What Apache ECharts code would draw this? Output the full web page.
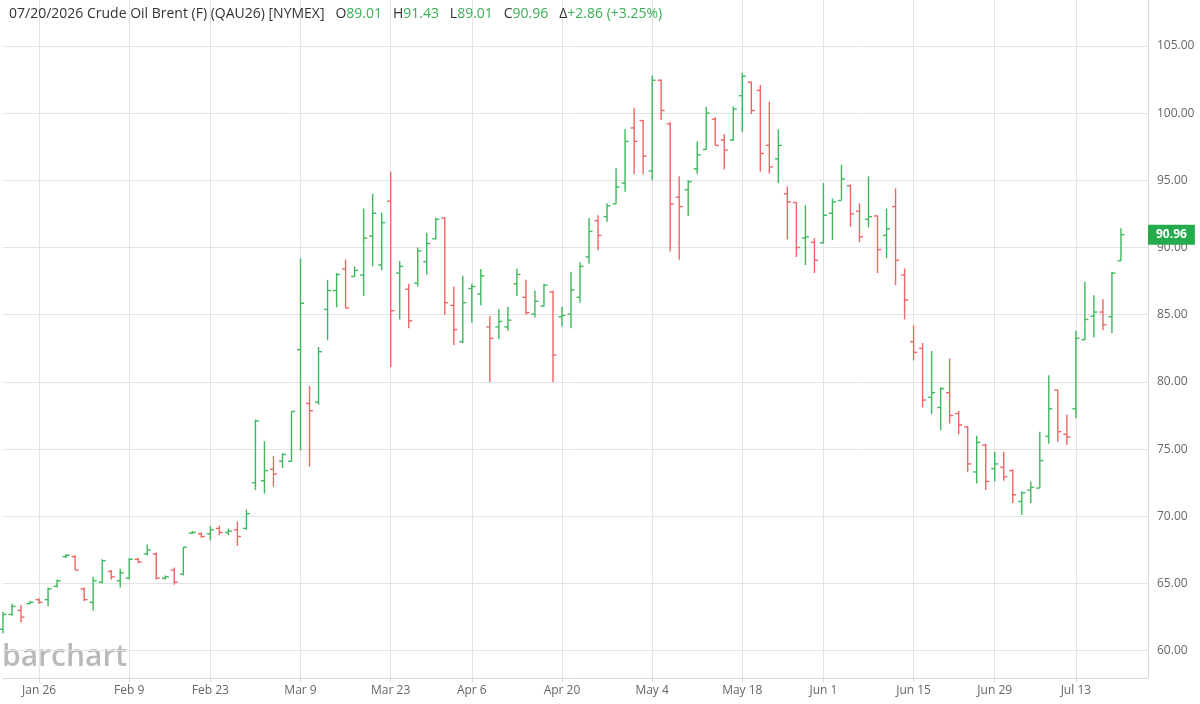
<!DOCTYPE html>
<html>
<head>
    <meta charset="UTF-8">
    <title>Crude Oil Brent (F) (QAU26)</title>
    <script src="https://cdn.jsdelivr.net/npm/echarts@6/dist/echarts.min.js"></script>
    <style>
        html, body { margin: 0; padding: 0; background: #fff; }
    </style>
</head>
<body>
<div id="chart" style="width:1200px; height:704px;"></div>
<script>
    // trading days, Jan 20 .. Jul 20 2026
    var dates = [
        'Jan 20', 'Jan 21', 'Jan 22', 'Jan 23', 'Jan 26', 'Jan 27', 'Jan 28', 'Jan 29', 'Jan 30',
        'Feb 2', 'Feb 3', 'Feb 4', 'Feb 5', 'Feb 6', 'Feb 9', 'Feb 10', 'Feb 11', 'Feb 12', 'Feb 13',
        'Feb 17', 'Feb 18', 'Feb 19', 'Feb 20', 'Feb 23', 'Feb 24', 'Feb 25', 'Feb 26', 'Feb 27',
        'Mar 2', 'Mar 3', 'Mar 4', 'Mar 5', 'Mar 6', 'Mar 9', 'Mar 10', 'Mar 11', 'Mar 12', 'Mar 13',
        'Mar 16', 'Mar 17', 'Mar 18', 'Mar 19', 'Mar 20', 'Mar 23', 'Mar 24', 'Mar 25', 'Mar 26', 'Mar 27',
        'Mar 30', 'Mar 31', 'Apr 1', 'Apr 2', 'Apr 6', 'Apr 7', 'Apr 8', 'Apr 9', 'Apr 10',
        'Apr 13', 'Apr 14', 'Apr 15', 'Apr 16', 'Apr 17', 'Apr 20', 'Apr 21', 'Apr 22', 'Apr 23', 'Apr 24',
        'Apr 27', 'Apr 28', 'Apr 29', 'Apr 30', 'May 1', 'May 4', 'May 5', 'May 6', 'May 7', 'May 8',
        'May 11', 'May 12', 'May 13', 'May 14', 'May 15', 'May 18', 'May 19', 'May 20', 'May 21', 'May 22',
        'May 26', 'May 27', 'May 28', 'May 29', 'Jun 1', 'Jun 2', 'Jun 3', 'Jun 4', 'Jun 5',
        'Jun 8', 'Jun 9', 'Jun 10', 'Jun 11', 'Jun 12', 'Jun 15', 'Jun 16', 'Jun 17', 'Jun 18',
        'Jun 22', 'Jun 23', 'Jun 24', 'Jun 25', 'Jun 26', 'Jun 29', 'Jun 30', 'Jul 1', 'Jul 2',
        'Jul 6', 'Jul 7', 'Jul 8', 'Jul 9', 'Jul 10', 'Jul 13', 'Jul 14', 'Jul 15', 'Jul 16', 'Jul 17',
        'Jul 20'
    ];
    // empty slots on the right edge
    var padSlots = ['', '', ''];

    var tickLabels = ['Jan 26', 'Feb 9', 'Feb 23', 'Mar 9', 'Mar 23', 'Apr 6', 'Apr 20',
        'May 4', 'May 18', 'Jun 1', 'Jun 15', 'Jun 29', 'Jul 13'];

    var opens = [
        61.6, 62.7, 63.0, 63.5, 63.8, 63.8, 64.8, 67.0, 67.0, 64.6,
        63.6, 65.1, 65.9, 65.2, 65.4, 66.8, 67.2, 67.2, 65.4, 66.0,
        65.7, 68.75, 68.7, 68.7, 69.1, 68.8, 69.0, 69.1, 72.5, 72.65,
        73.5, 74.1, 74.1, 82.4, 78.4, 78.5, 85.4, 86.8, 88.4, 87.85,
        87.95, 90.85, 88.7, 93.45, 88.1, 86.9, 87.35, 88.95, 90.65, 92.2,
        85.7, 83.0, 86.95, 86.55, 84.1, 84.1, 84.1, 87.3, 86.3, 85.05,
        85.65, 86.7, 84.85, 85.05, 86.3, 89.3, 92.0, 92.3, 93.25, 94.8,
        98.9, 99.45, 95.7, 102.45, 99.2, 93.75, 94.3, 95.85, 97.3, 99.55,
        98.0, 98.0, 101.3, 102.3, 101.7, 97.6, 96.6, 94.0, 93.35, 90.7,
        90.4, 90.35, 92.55, 93.5, 94.6, 92.7, 92.1, 92.35, 90.9, 93.05,
        87.95, 83.0, 82.5, 78.85, 78.1, 79.2, 77.65, 76.65, 73.3, 75.3,
        73.55, 73.65, 73.4, 71.1, 71.95, 72.1, 75.95, 79.4, 76.1, 78.0,
        83.15, 84.9, 85.2, 84.85, 89.01
    ];
    var highs = [
        62.9, 63.5, 63.4, 63.7, 63.9, 64.7, 65.3, 67.2, 67.1, 64.7,
        65.5, 66.8, 66.0, 66.1, 66.9, 66.9, 67.9, 67.3, 65.6, 66.2,
        67.7, 68.9, 68.8, 69.3, 69.3, 69.1, 69.6, 70.5, 77.2, 75.6,
        74.5, 74.7, 77.8, 89.2, 79.7, 82.6, 87.6, 88.1, 89.1, 88.6,
        92.9, 94.0, 92.6, 95.65, 89.0, 87.3, 90.0, 91.1, 92.2, 92.25,
        87.1, 87.9, 87.3, 88.4, 84.9, 85.4, 85.6, 88.45, 87.6, 86.8,
        87.3, 86.8, 85.6, 88.2, 88.9, 92.2, 92.4, 93.3, 95.9, 98.8,
        100.4, 99.5, 102.8, 102.5, 99.35, 95.3, 95.0, 97.9, 100.45, 99.7,
        98.45, 100.5, 103.0, 102.35, 102.1, 100.85, 98.8, 94.55, 93.35, 93.15,
        90.7, 94.8, 93.65, 96.15, 94.7, 93.3, 95.3, 92.4, 92.9, 94.4,
        88.45, 84.2, 82.9, 82.3, 79.6, 81.75, 77.85, 76.7, 76.0, 75.4,
        74.8, 74.8, 73.5, 71.85, 72.6, 76.3, 80.5, 79.4, 77.55, 83.8,
        87.45, 86.45, 86.15, 88.2, 91.43
    ];
    var lows = [
        61.3, 62.6, 62.1, 63.5, 63.5, 63.3, 64.7, 66.9, 66.0, 63.7,
        63.0, 65.0, 65.3, 64.7, 65.3, 66.5, 67.1, 65.3, 65.3, 64.9,
        65.6, 68.7, 68.4, 68.2, 68.6, 68.6, 67.8, 69.0, 71.95, 71.7,
        72.2, 73.6, 74.05, 74.9, 73.7, 78.3, 83.1, 85.55, 85.5, 87.8,
        86.4, 88.6, 88.3, 81.1, 84.65, 84.0, 87.1, 88.0, 90.6, 85.0,
        82.75, 82.9, 84.4, 85.7, 80.0, 83.2, 83.8, 86.4, 85.0, 84.8,
        85.6, 80.0, 84.15, 84.0, 85.9, 88.8, 89.8, 91.9, 93.25, 94.15,
        95.45, 95.45, 95.0, 99.5, 89.7, 89.1, 92.35, 95.5, 97.3, 97.6,
        95.8, 97.95, 98.6, 99.95, 95.65, 95.5, 94.8, 90.6, 89.3, 88.7,
        88.1, 90.3, 90.55, 93.5, 91.55, 90.4, 91.5, 88.1, 89.2, 87.2,
        84.65, 81.6, 78.1, 77.6, 76.4, 76.9, 76.1, 73.3, 72.45, 71.95,
        72.6, 72.65, 71.0, 70.1, 71.0, 72.1, 75.4, 75.55, 75.3, 77.3,
        83.1, 83.3, 83.85, 83.65, 89.01
    ];
    var closes = [
        62.7, 63.3, 62.5, 63.6, 63.6, 64.6, 65.2, 67.1, 66.0, 63.8,
        65.2, 66.7, 65.5, 65.8, 66.8, 66.6, 67.5, 65.4, 65.5, 65.1,
        67.7, 68.8, 68.5, 69.0, 68.8, 68.9, 68.5, 70.2, 77.1, 73.4,
        73.15, 74.6, 77.8, 85.85, 77.86, 82.25, 86.8, 88.0, 85.5, 88.3,
        90.7, 92.55, 91.85, 85.3, 88.6, 84.55, 89.75, 90.3, 92.1, 85.9,
        83.9, 85.9, 87.1, 87.9, 83.25, 84.5, 84.6, 88.0, 85.15, 86.0,
        87.2, 82.0, 84.95, 86.85, 88.6, 91.2, 90.9, 93.1, 94.5, 97.9,
        97.9, 96.8, 102.45, 100.2, 93.25, 93.05, 94.9, 96.9, 100.0, 97.6,
        97.25, 100.3, 102.75, 100.2, 97.0, 96.0, 97.6, 93.4, 90.0, 90.8,
        89.05, 92.4, 93.4, 95.1, 92.5, 90.8, 92.3, 89.85, 91.4, 89.05,
        86.1, 82.2, 78.65, 79.2, 79.5, 77.5, 76.8, 73.9, 75.5, 72.6,
        73.9, 72.95, 71.6, 71.75, 72.15, 74.15, 78.0, 76.3, 75.9, 83.25,
        84.65, 85.2, 84.25, 88.10, 90.96
    ];

    var UP = '#3cb95c';
    var DOWN = '#ef6464';
    var FONT = 'Open Sans';

    var ohlc = dates.map(function (d, i) {
        return [i, opens[i], highs[i], lows[i], closes[i]];
    });

    var last = ohlc.length - 1;
    var chg = closes[last] - closes[last - 1];
    var pct = chg / closes[last - 1] * 100;
    var sign = chg >= 0 ? '+' : '';
    var gap = '   ';
    var header = '{k|07/20/2026 Crude Oil Brent (F) (QAU26) [NYMEX]}' + gap +
        '{k|O}{g|' + opens[last].toFixed(2) + '}' + gap +
        '{k|H}{g|' + highs[last].toFixed(2) + '}' + gap +
        '{k|L}{g|' + lows[last].toFixed(2) + '}' + gap +
        '{k|C}{g|' + closes[last].toFixed(2) + '}' + gap +
        '{k|Δ}{g|' + sign + chg.toFixed(2) + ' (' + sign + pct.toFixed(2) + '%)}';

    function isTick(idx, val) {
        return tickLabels.indexOf(val) >= 0;
    }

    var chart = echarts.init(document.getElementById('chart'), null, {renderer: 'canvas'});
    var option = {
        animation: false,
        backgroundColor: '#fff',
        textStyle: {fontFamily: FONT},
        title: {
            left: 4,
            top: 2,
            text: header,
            textStyle: {
                fontSize: 14,
                fontWeight: 'normal',
                rich: {
                    k: {color: '#333', fontSize: 14, fontFamily: FONT},
                    g: {color: '#3aaf55', fontSize: 14, fontFamily: FONT}
                }
            }
        },
        graphic: [{
            type: 'text',
            left: 2,
            top: 642,
            silent: true,
            style: {
                text: 'barchart',
                fill: '#b9b9b9',
                font: '600 30px "Open Sans"'
            }
        }],
        grid: {left: 3, right: 52, top: 0, bottom: 26, containLabel: false},
        xAxis: {
            type: 'category',
            data: dates.concat(padSlots),
            boundaryGap: false,
            axisLine: {show: true, lineStyle: {color: '#d9d9d9', width: 1}},
            axisTick: {show: true, interval: isTick, length: 4, lineStyle: {color: '#d9d9d9'}},
            axisLabel: {
                interval: isTick,
                color: '#666',
                fontSize: 12,
                fontFamily: FONT,
                margin: 7
            },
            splitLine: {show: true, interval: isTick, lineStyle: {color: '#e3e3e3', width: 1}}
        },
        yAxis: {
            type: 'value',
            position: 'right',
            min: 57.97,
            max: 108.42,
            splitNumber: 10,
            axisLine: {show: true, lineStyle: {color: '#d9d9d9', width: 1}},
            axisTick: {show: false},
            axisLabel: {
                color: '#666',
                fontSize: 12,
                fontFamily: FONT,
                margin: 9,
                showMinLabel: false,
                showMaxLabel: false,
                formatter: function (v) {
                    return Math.abs(v / 5 - Math.round(v / 5)) < 1e-6 ? v.toFixed(2) : '';
                }
            },
            splitLine: {show: true, showMinLine: false, showMaxLine: false, lineStyle: {color: '#e3e3e3', width: 1}}
        },
        series: [{
            type: 'custom',
            name: 'QAU26',
            data: ohlc,
            encode: {x: 0, y: [1, 2, 3, 4]},
            renderItem: function (params, api) {
                var i = api.value(0);
                var pO = api.coord([i, api.value(1)]);
                var pH = api.coord([i, api.value(2)]);
                var pL = api.coord([i, api.value(3)]);
                var pC = api.coord([i, api.value(4)]);
                var x = pO[0];
                var color = api.value(4) >= api.value(1) ? UP : DOWN;
                var st = {stroke: color, lineWidth: 1.4};
                return {
                    type: 'group',
                    children: [
                        {type: 'line', shape: {x1: x, y1: pH[1], x2: x, y2: pL[1]}, style: st},
                        {type: 'line', shape: {x1: x - 3.5, y1: pO[1], x2: x, y2: pO[1]}, style: st},
                        {type: 'line', shape: {x1: x, y1: pC[1], x2: x + 3.5, y2: pC[1]}, style: st}
                    ]
                };
            }
        }, {
            // last price tag on the right axis
            type: 'line',
            name: 'last',
            data: dates.map(function () { return '-'; }),
            symbol: 'none',
            silent: true,
            lineStyle: {width: 0},
            markLine: {
                silent: true,
                symbol: ['none', 'none'],
                lineStyle: {color: 'rgba(0,0,0,0)', width: 0, type: 'solid'},
                data: [{yAxis: closes[last], name: 'last'}],
                label: {
                    show: true,
                    position: 'end',
                    distance: 0,
                    formatter: function () { return closes[last].toFixed(2); },
                    color: '#fff',
                    fontWeight: 'bold',
                    fontSize: 12,
                    fontFamily: FONT,
                    backgroundColor: '#25ab4c',
                    padding: [4, 8, 4, 8]
                }
            }
        }]
    };
    chart.setOption(option);
</script>
</body>
</html>
